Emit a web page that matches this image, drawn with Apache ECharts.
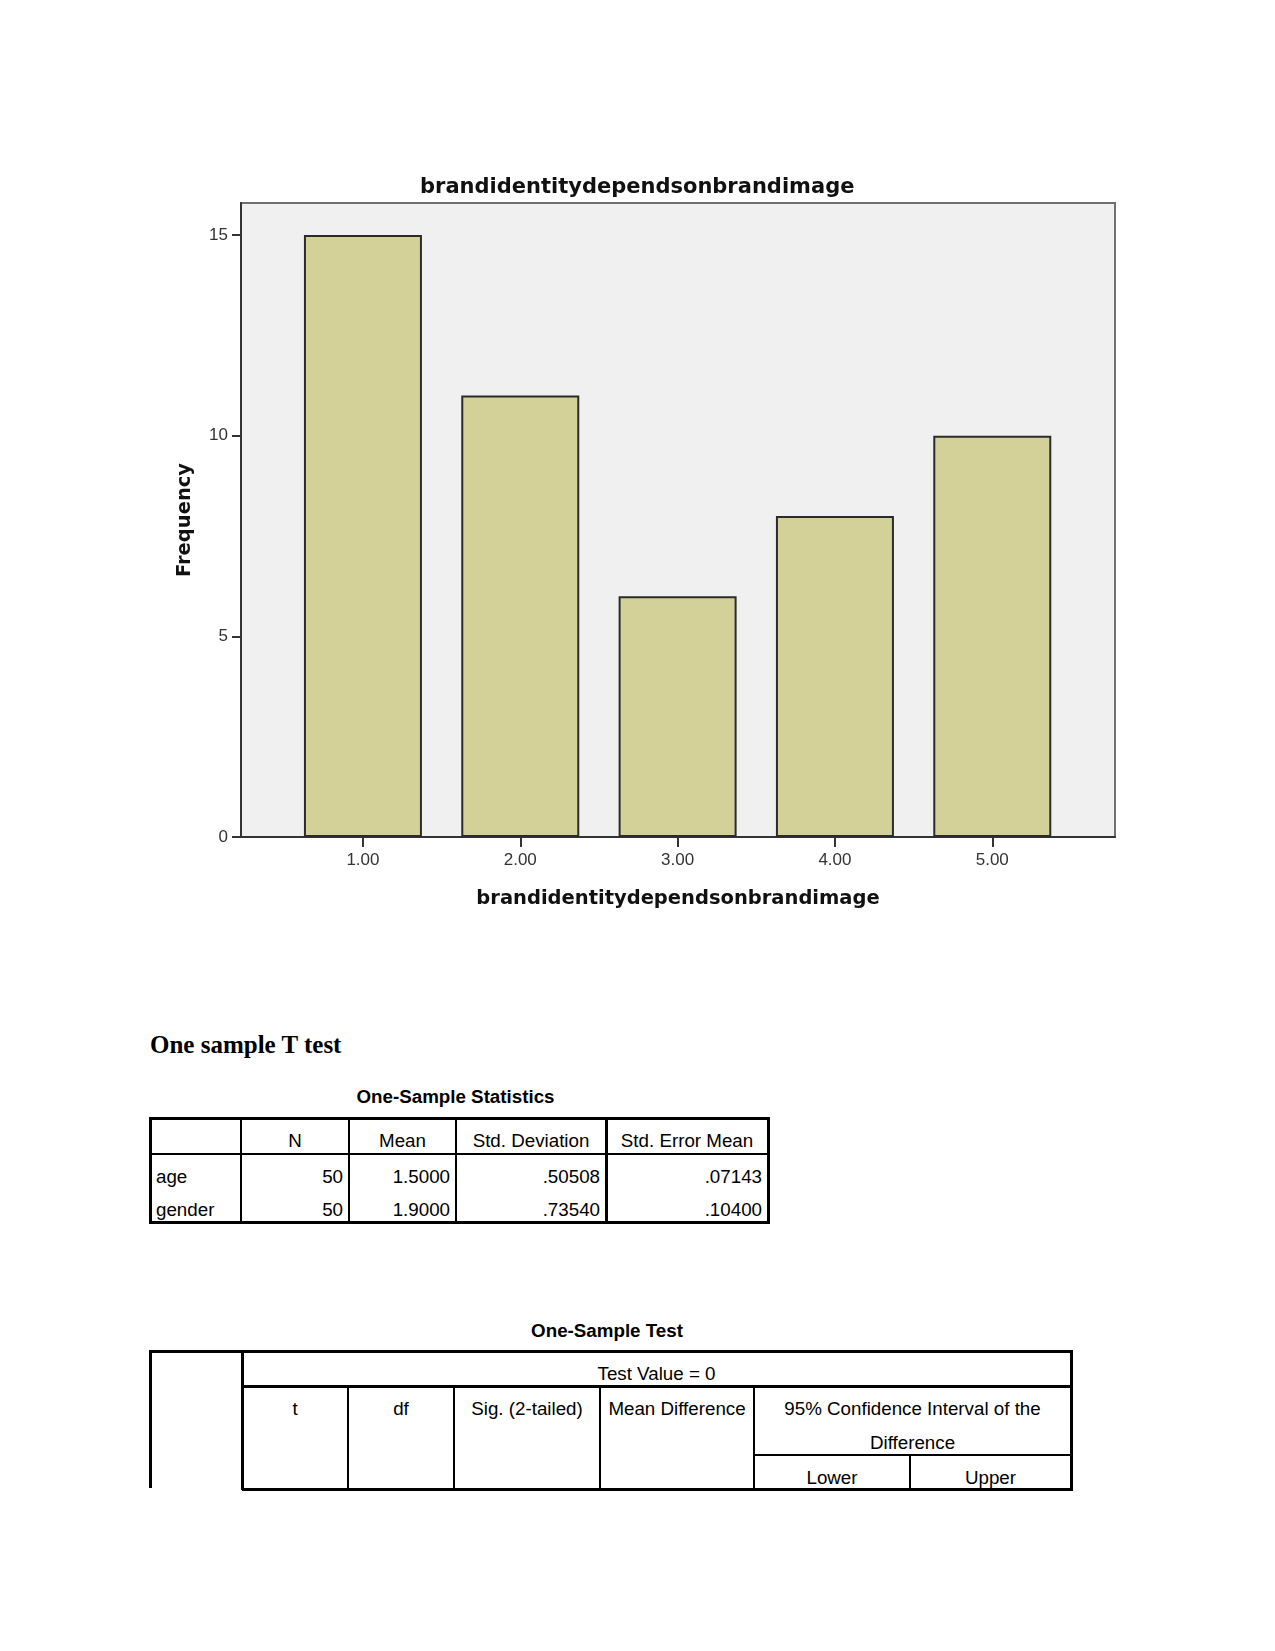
<!DOCTYPE html>
<html><head><meta charset="utf-8">
<script src="https://cdn.jsdelivr.net/npm/echarts@6/dist/echarts.min.js"></script>
<style>
html,body{margin:0;padding:0;background:#fff;}
#page{position:relative;width:1275px;height:1651px;overflow:hidden;background:#fff;}
#chart{position:absolute;left:0;top:0;width:1275px;height:960px;}
.t{position:absolute;white-space:nowrap;font-family:'Liberation Sans',Arial,sans-serif;font-size:18.75px;line-height:18.75px;color:#000;}
.l{position:absolute;background:#000;}
</style></head><body><div id="page"><div id="chart"></div></div>
<script>
// ---- chart data ----
const categories = [1, 2, 3, 4, 5];
const frequencies = [15, 11, 6, 8, 10];
const yTicks = [0, 5, 10, 15];
const chartTitle = 'brandidentitydependsonbrandimage';
const xAxisTitle = 'brandidentitydependsonbrandimage';
const yAxisTitle = 'Frequency';

// ---- table data ----
const heading = 'One sample T test';
const statsTitle = 'One-Sample Statistics';
const statsHeader = ['N', 'Mean', 'Std. Deviation', 'Std. Error Mean'];
const statsRowLabels = ['age', 'gender'];
const statsN = ['50', '50'];
const statsMean = ['1.5000', '1.9000'];
const statsSD = ['.50508', '.73540'];
const statsSE = ['.07143', '.10400'];
const testTitle = 'One-Sample Test';
const testValueLabel = 'Test Value = 0';
const testHeader = ['t', 'df', 'Sig. (2-tailed)', 'Mean Difference'];
const ciHeader = ['95% Confidence Interval of the', 'Difference'];
const ciSub = ['Lower', 'Upper'];

const chart = echarts.init(document.getElementById('chart'), null, {renderer: 'canvas'});
const tickFont = {fontFamily: 'Liberation Sans, Arial, sans-serif', fontSize: 17, color: '#333'};
const boldFont = {fontFamily: 'DejaVu Sans', fontWeight: 'bold', color: '#111'};
chart.setOption({
  animation: false,
  backgroundColor: '#ffffff',
  title: {
    text: chartTitle, left: 415, top: 172,
    textStyle: Object.assign({fontSize: 21}, boldFont)
  },
  grid: {
    left: 241, top: 203, width: 874, height: 634,
    show: true, backgroundColor: '#f0f0f0', borderColor: '#707070', borderWidth: 2
  },
  xAxis: {
    type: 'value', min: 0.225, max: 5.78,
    name: xAxisTitle, nameLocation: 'middle', nameGap: 52,
    nameTextStyle: Object.assign({fontSize: 19.5}, boldFont),
    axisLine: {onZero: false, lineStyle: {color: '#333', width: 2}},
    axisTick: {customValues: categories, length: 10, lineStyle: {color: '#333', width: 2}},
    axisLabel: Object.assign({customValues: categories, margin: 15, formatter: v => v.toFixed(2)}, tickFont),
    splitLine: {show: false}
  },
  yAxis: {
    type: 'value', min: 0, max: 15.8,
    name: yAxisTitle, nameLocation: 'middle', nameGap: 46, nameRotate: 90,
    nameTextStyle: Object.assign({fontSize: 19.5}, boldFont),
    axisLine: {show: true, onZero: false, lineStyle: {color: '#333', width: 2}},
    axisTick: {show: true, customValues: yTicks, length: 9, lineStyle: {color: '#333', width: 2}},
    axisLabel: Object.assign({customValues: yTicks, margin: 13}, tickFont),
    splitLine: {show: false}
  },
  series: [{
    type: 'bar',
    data: categories.map((c, i) => [c, frequencies[i]]),
    barWidth: 118,
    itemStyle: {color: '#d3d098', borderColor: '#2b2b2b', borderWidth: 2}
  }]
});

// ---- tables (HTML) ----
const page = document.getElementById('page');
function hl(x1, x2, y, w) {
  const d = document.createElement('div'); d.className = 'l';
  d.style.left = x1 + 'px'; d.style.width = (x2 - x1) + 'px';
  d.style.top = (y - w / 2) + 'px'; d.style.height = w + 'px'; page.appendChild(d);
}
function vl(x, y1, y2, w) {
  const d = document.createElement('div'); d.className = 'l';
  d.style.top = y1 + 'px'; d.style.height = (y2 - y1) + 'px';
  d.style.left = (x - w / 2) + 'px'; d.style.width = w + 'px'; page.appendChild(d);
}
function tx(s, x, baseline, align, extra) {
  const d = document.createElement('div'); d.className = 't';
  d.textContent = s;
  if (extra) Object.assign(d.style, extra);
  const fs = parseFloat((extra && extra.fontSize) || 18.75);
  const asc = (extra && extra.asc) || 0.8465;
  d.style.top = (baseline - asc * fs) + 'px';
  d.style.left = x + 'px';
  if (align === 'center') d.style.transform = 'translateX(-50%)';
  if (align === 'right') d.style.transform = 'translateX(-100%)';
  page.appendChild(d);
}

// heading
tx(heading, 150, 1053, 'left', {fontFamily: "'Liberation Serif','Times New Roman',serif", fontWeight: 'bold', fontSize: '25px', lineHeight: '25px', asc: 0.8375});

// table 1
tx(statsTitle, 455.5, 1104, 'center', {fontWeight: 'bold'});
const c1 = [150, 241, 349, 456, 606, 768];
hl(148.5, 769.5, 1118, 3);
hl(148.5, 769.5, 1154, 2);
hl(148.5, 769.5, 1222, 3);
vl(150, 1118, 1222, 3);
vl(768, 1118, 1222, 3);
vl(241, 1118, 1222, 2);
vl(349, 1118, 1222, 2);
vl(456, 1118, 1222, 2);
vl(606, 1118, 1222, 3);
statsHeader.forEach((h, i) => tx(h, (c1[i + 1] + c1[i + 2]) / 2, 1148, 'center'));
const rowBase = [1184, 1217];
statsRowLabels.forEach((lab, r) => {
  tx(lab, 156, rowBase[r], 'left');
  [statsN, statsMean, statsSD, statsSE].forEach((arr, k) => tx(arr[r], c1[k + 2] - 6, rowBase[r], 'right'));
});

// table 2
tx(testTitle, 607, 1338, 'center', {fontWeight: 'bold'});
const c2 = [242, 348, 454, 600, 754];
hl(148.5, 1072.5, 1351, 3);
vl(150, 1351, 1488, 3);
vl(242, 1351, 1490, 3);
vl(1071, 1351, 1490, 3);
hl(242, 1072.5, 1386, 3);
vl(348, 1386, 1490, 2);
vl(454, 1386, 1490, 2);
vl(600, 1386, 1490, 2);
vl(754, 1386, 1490, 2);
hl(754, 1072.5, 1455, 2);
vl(910, 1455, 1490, 2);
hl(242, 1072.5, 1489, 3);
tx(testValueLabel, 656.5, 1381, 'center');
testHeader.forEach((h, i) => tx(h, (c2[i] + c2[i + 1]) / 2, 1416, 'center'));
tx(ciHeader[0], 912.5, 1416, 'center');
tx(ciHeader[1], 912.5, 1450, 'center');
tx(ciSub[0], 832, 1485, 'center');
tx(ciSub[1], 990.5, 1485, 'center');
</script></body></html>
